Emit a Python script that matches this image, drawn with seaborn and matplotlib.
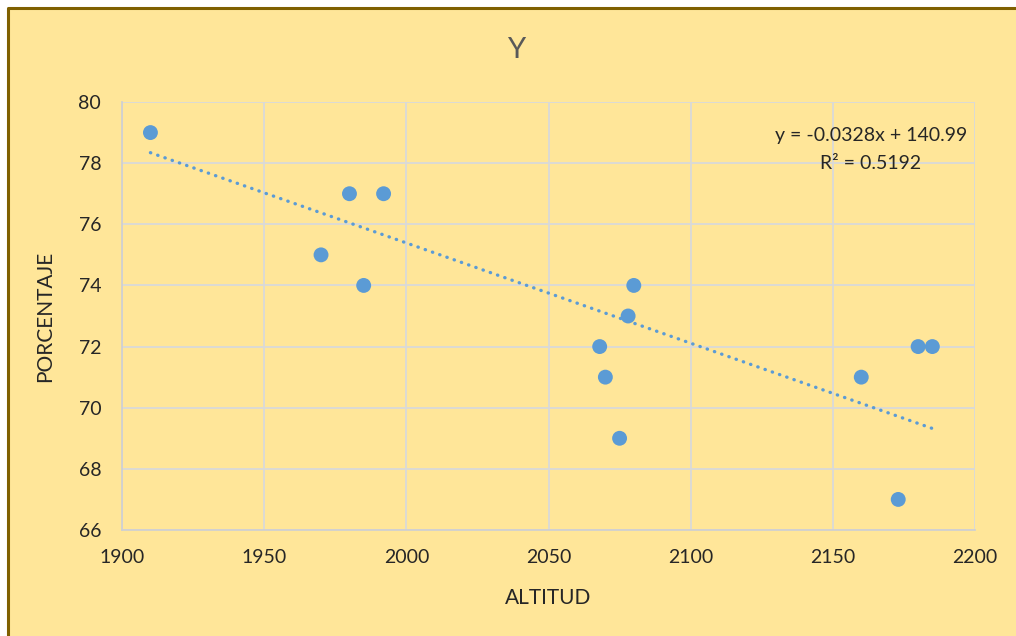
import numpy as np
import pandas as pd
import matplotlib
matplotlib.use("Agg")
import matplotlib.pyplot as plt
import seaborn as sns
from matplotlib.patches import Rectangle
from matplotlib.lines import Line2D

altitud = [1910, 1970, 1980, 1985, 1992, 2068, 2070, 2075, 2078, 2080, 2160, 2173, 2180, 2185]
porcentaje = [79, 75, 77, 74, 77, 72, 71, 69, 73, 74, 71, 67, 72, 72]
slope = -0.0328
intercept = 140.99
eq_label = "y = -0.0328x + 140.99"
r2_label = "R² = 0.5192"
x_ticks = [1900, 1950, 2000, 2050, 2100, 2150, 2200]
y_ticks = [66, 68, 70, 72, 74, 76, 78, 80]

df = pd.DataFrame({"ALTITUD": altitud, "PORCENTAJE": porcentaje})

sns.set_style("white")
plt.rcParams['font.family'] = ['Lato', 'DejaVu Sans']

bg = "#FFE699"
txt = "#262626"
fig = plt.figure(figsize=(10.16, 6.36), dpi=100, facecolor="white")
bx, by = 8 / 1016, 1 - 8 / 636
fig.patches.append(Rectangle((bx, 0), 1 - bx, by, transform=fig.transFigure,
                             facecolor=bg, edgecolor="none", zorder=-10))
fig.lines.append(Line2D([bx, bx, 1], [0, by, by], transform=fig.transFigure,
                        color="#7F6000", linewidth=2.2, zorder=-9))
ax = fig.add_axes([122 / 1016, 1 - 530 / 636, 853 / 1016, 428 / 636])
ax.set_facecolor(bg)

ax.set_xlim(1900, 2200)
ax.set_ylim(66, 80)
ax.set_xticks(x_ticks)
ax.set_yticks(y_ticks)
ax.grid(True, color="#D9D9D9", linewidth=1.3, zorder=0)
ax.set_axisbelow(True)
for s in ["top", "right"]:
    ax.spines[s].set_visible(False)
for s in ["left", "bottom"]:
    ax.spines[s].set_color("#D0D0D0")
    ax.spines[s].set_linewidth(1.3)

xs = np.array([min(altitud), max(altitud)])
sns.lineplot(x=xs, y=slope * xs + intercept, ax=ax, color="#5B9BD5",
             linewidth=2.4, linestyle=(0, (0.1, 2.2)), dash_capstyle="round", zorder=2)
sns.scatterplot(data=df, x="ALTITUD", y="PORCENTAJE", ax=ax, color="#5B9BD5",
                s=115, edgecolor="none", zorder=3)

ax.tick_params(axis="x", length=0, labelsize=14, labelcolor=txt, pad=14)
ax.tick_params(axis="y", length=0, labelsize=14, labelcolor=txt, pad=15)
ax.set_xlabel("ALTITUD", fontsize=15, color=txt, va="center")
ax.set_ylabel("PORCENTAJE", fontsize=15, color=txt, va="center")
ax.xaxis.set_label_coords(0.5, -(598 - 530) / 428)
ax.yaxis.set_label_coords(-(122 - 45) / 853, 0.5)
fig.text(516 / 1016, 1 - 50 / 636, "Y", fontsize=21, color="#595959",
         ha="center", va="center")

ax.text(2163.4, 78.92, eq_label, ha="center", va="center", fontsize=14, color=txt)
ax.text(2163.4, 78.0, r2_label, ha="center", va="center", fontsize=14, color=txt)

fig.savefig("out.png", dpi=100, facecolor=fig.get_facecolor())
